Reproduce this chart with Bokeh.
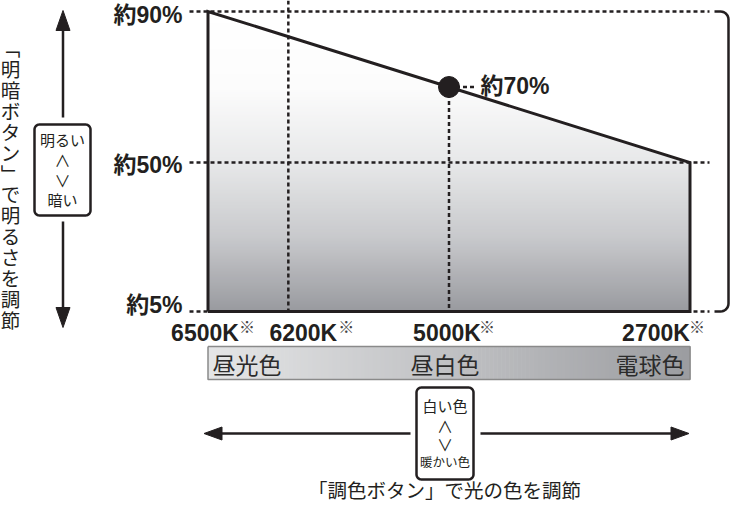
import numpy as np
from bokeh.plotting import figure
from bokeh.models import Range1d
from bokeh.core.properties import value
from bokeh.embed import file_html
from bokeh.resources import INLINE

# ---------------- data ----------------
color_temps_k = [6500, 6200, 5000, 2700]
color_steps = [0, 2, 6, 12]              # position on the colour-button scale
line_steps = [0, 12]
line_brightness = [90, 50]               # brightness at 6500K and 2700K (%)
marker_step = 6
marker_brightness = 70                   # brightness at 5000K (%)
brightness_levels = [90, 50, 5]          # labelled brightness levels (%)
color_names = ["昼光色", "昼白色", "電球色"]
brightness_title = "「明暗ボタン」で明るさを調節"
color_title = "「調色ボタン」で光の色を調節"
bright_box = ["明るい", "∧", "∨", "暗い"]
color_box = ["白い色", "∧", "∨", "暖かい色"]

# ---------------- layout helpers ----------------
X0, X1 = 215.5, 697.5
def xs(step):
    return np.interp(step, [0, 12], [X0, X1])

def yp(pct):
    return np.interp(pct, [5, 50, 90], [319, 170, 19])

INK = "#231f20"
FB = value("Liberation Sans, Noto Sans CJK JP")
FJ = value("Noto Sans CJK JP")

p = figure(width=731, height=503, x_range=Range1d(8, 739), y_range=Range1d(511, 8),
           output_backend="svg", toolbar_location=None, min_border=0,
           x_axis_location=None, y_axis_location=None)
p.grid.visible = False
p.outline_line_color = None
p.background_fill_color = "white"
p.border_fill_color = "white"

# ---------------- gradient area under the line ----------------
x_left, x_right = xs(line_steps[0]), xs(line_steps[1])
y_top_l, y_top_r = yp(line_brightness[0]), yp(line_brightness[1])
y_bot = yp(5)

def top_x(y):  # x where the slanted line reaches height y
    return x_left + (y - y_top_l) * (x_right - x_left) / (y_top_r - y_top_l)

stops_y = [19, 95, 170, 245, 319]
stops_c = [(255, 255, 255), (252, 252, 252), (231, 232, 233), (200, 201, 204), (153, 154, 159)]
def grad(y):
    return "#%02x%02x%02x" % tuple(int(round(np.interp(y, stops_y, [c[i] for c in stops_c]))) for i in range(3))

bxs, bys, bcs = [], [], []
step = 1.5
y = y_top_l
while y < y_bot:
    ya, yb = y, min(y + step + 0.6, y_bot)
    xa = min(top_x(ya), x_right) if ya < y_top_r else x_right
    xb = min(top_x(yb), x_right) if yb < y_top_r else x_right
    if ya < y_top_r < yb:
        bxs.append([x_left, xa, x_right, x_right, x_left]); bys.append([ya, ya, y_top_r, yb, yb])
    else:
        bxs.append([x_left, xa, xb, x_left]); bys.append([ya, ya, yb, yb])
    bcs.append(grad(y + step / 2))
    y += step
p.patches(bxs, bys, fill_color=bcs, line_color=None)

# ---------------- dotted guide lines ----------------
DOT = dict(line_color=INK, line_width=2.5, line_dash="4 3")
for lv in brightness_levels:
    p.line([197, 717], [yp(lv), yp(lv)], **DOT)
p.line([xs(color_steps[1])] * 2, [8, y_bot], **DOT)
p.line([xs(marker_step)] * 2, [yp(marker_brightness), y_bot], **DOT)
p.line([xs(marker_step), 484], [yp(marker_brightness)] * 2, **DOT)

# ---------------- outline & marker ----------------
p.line([x_left, x_left, x_right, x_right, x_left],
       [y_bot, y_top_l, y_top_r, y_bot, y_bot],
       line_color=INK, line_width=3, line_join="miter")
p.scatter([xs(marker_step)], [yp(marker_brightness)], size=21, color=INK)

# ---------------- labels ----------------
p.text([190] * 3, [yp(v) + d for v, d in zip(brightness_levels, [3, 2, -7])],
       text=[f"約{v}%" for v in brightness_levels], text_font=FB, text_font_style="bold",
       text_font_size="23px", text_color=INK, text_align="right", text_baseline="middle")
p.text([488], [yp(marker_brightness) - 1], text=[f"約{marker_brightness}%"], text_font=FB,
       text_font_style="bold", text_font_size="23px", text_color=INK,
       text_align="left", text_baseline="middle")

k_off = [-3, 15, -2, -34]
p.text([xs(s) + o for s, o in zip(color_steps, k_off)], [340] * 4,
       text=[f"{k}K" for k in color_temps_k], text_font=FB, text_font_style="bold",
       text_font_size="23px", text_color=INK, text_align="center", text_baseline="middle")
ast_off = [31, 50, 30, -1]
p.text([xs(s) + o for s, o in zip(color_steps, ast_off)], [333] * 4,
       text=["※"] * 4, text_font=FJ, text_font_size="16px", text_color="#444444",
       text_align="left", text_baseline="middle")

# ---------------- colour name bar ----------------
bar_top, bar_bot = 354, 387
nb = 120
edges = np.linspace(X0, X1, nb + 1)
cl, cr = np.array([229, 230, 231]), np.array([156, 157, 161])
cols = ["#%02x%02x%02x" % tuple(int(v) for v in cl + (cr - cl) * (i + 0.5) / nb) for i in range(nb)]
p.quad(left=edges[:-1], right=edges[1:] + 0.6, top=[bar_top] * nb, bottom=[bar_bot] * nb,
       fill_color=cols, line_color=None)
p.line([X0, X1, X1, X0, X0], [bar_top, bar_top, bar_bot, bar_bot, bar_top],
       line_color="#8a8a8a", line_width=1.5)
p.text([220, (X0 + X1) / 2 - 4, 692], [371] * 3, text=color_names, text_font=FJ,
       text_font_size="23px", text_color="#2b2b2b",
       text_align=["left", "center", "right"], text_baseline="middle")

# ---------------- helpers for boxes / arrows ----------------
def rrect(x0, y0, x1, y1, r, n=8):
    px, py = [], []
    for cx, cy, a0 in [(x1 - r, y0 + r, -90), (x1 - r, y1 - r, 0), (x0 + r, y1 - r, 90), (x0 + r, y0 + r, 180)]:
        for a in np.linspace(a0, a0 + 90, n):
            px.append(cx + r * np.cos(np.radians(a)))
            py.append(cy + r * np.sin(np.radians(a)))
    return px, py

AR = dict(fill_color=INK, line_color=INK, line_width=1)
# vertical brightness arrow
ax = 70.5
p.line([ax, ax], [30, 125], line_color=INK, line_width=2.5)
p.line([ax, ax], [229, 325], line_color=INK, line_width=2.5)
p.patches([[ax, ax - 7, ax + 7], [ax, ax - 7, ax + 7]], [[18, 38, 38], [335, 315, 315]], **AR)
bx, by = rrect(42, 132, 98, 223, 5)
p.patch(bx, by, fill_color="white", line_color=INK, line_width=2.5)
p.text([70] * 4, [147, 167, 187, 207], text=bright_box, text_font=FJ,
       text_font_size=["15px", "16px", "16px", "15px"], text_color=INK,
       text_align="center", text_baseline="middle")

# horizontal colour arrow
ay = 441
p.line([222, 418], [ay, ay], line_color=INK, line_width=2.5)
p.line([488, 686], [ay, ay], line_color=INK, line_width=2.5)
p.patches([[211.5, 229.5, 229.5], [696.5, 678.5, 678.5]],
          [[ay, ay - 6.5, ay + 6.5], [ay, ay - 6.5, ay + 6.5]], **AR)
bx, by = rrect(424, 395, 481, 487, 5)
p.patch(bx, by, fill_color="white", line_color=INK, line_width=2.5)
p.text([452.5] * 4, [413, 433, 451, 469], text=color_box, text_font=FJ,
       text_font_size=["15px", "16px", "16px", "12.5px"], text_color=INK,
       text_align="center", text_baseline="middle")

# right bracket
rb = 736
brx, bry = [722], [yp(90)]
for a in np.linspace(-90, 0, 8):
    brx.append(rb - 8 + 8 * np.cos(np.radians(a))); bry.append(yp(90) + 8 + 8 * np.sin(np.radians(a)))
for a in np.linspace(0, 90, 8):
    brx.append(rb - 8 + 8 * np.cos(np.radians(a))); bry.append(yp(5) - 8 + 8 * np.sin(np.radians(a)))
brx.append(722); bry.append(yp(5))
p.line(brx, bry, line_color=INK, line_width=2.5)

# titles
vert = "﹁明暗ボタン﹂で明るさを調節"
p.text([18], [191], text=["\n".join(vert)], text_font=FJ, text_font_size="19.5px",
       text_line_height=0.72, text_color=INK, text_align="center", text_baseline="middle")
p.text([452], [497], text=[color_title], text_font=FJ, text_font_size="19.5px",
       text_color=INK, text_align="center", text_baseline="middle")

open("out.html", "w").write(file_html(p, INLINE))
